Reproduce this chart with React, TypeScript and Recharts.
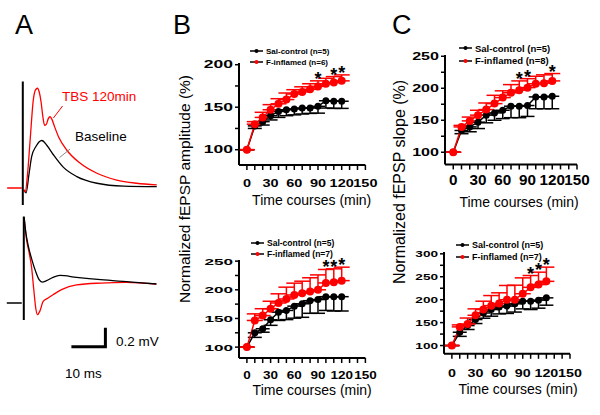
import React from 'react';
import {
  ComposedChart,
  LineChart,
  Line,
  XAxis,
  YAxis,
  ErrorBar,
  Scatter,
  Legend,
  ReferenceLine,
} from 'recharts';

const FONT = '"Liberation Sans", Arial, sans-serif';
const RED = '#ff0000';

// ---------- Panel A: example fEPSP traces (t in ms, v in mV) ----------
const topPreStim = [{ t: -4.6, v: 0 }, { t: -0.3, v: 0 }];
const topStim = [{ t: 0, v: 1.12 }, { t: 0, v: -0.18 }];
const topBaselineTrace = [
  { t: 0.3, v: -0.02 }, { t: 0.97, v: -0.05 }, { t: 1.8, v: 0.14 }, { t: 2.6, v: 0.33 },
  { t: 3.9, v: 0.44 }, { t: 5.6, v: 0.5 }, { t: 7.05, v: 0.45 }, { t: 9.0, v: 0.35 },
  { t: 11.9, v: 0.22 }, { t: 15.9, v: 0.12 }, { t: 21.8, v: 0.05 }, { t: 29.6, v: 0.02 },
  { t: 39.4, v: 0.015 },
];
const topTbsTrace = [
  { t: 0.3, v: -0.02 }, { t: 0.76, v: -0.04 }, { t: 1.4, v: 0.15 }, { t: 2.15, v: 0.5 },
  { t: 3.1, v: 0.93 }, { t: 3.7, v: 1.03 }, { t: 4.3, v: 1.05 }, { t: 4.9, v: 1.0 },
  { t: 5.4, v: 0.9 }, { t: 5.9, v: 0.75 }, { t: 6.4, v: 0.66 }, { t: 6.9, v: 0.67 },
  { t: 7.5, v: 0.73 }, { t: 8.0, v: 0.75 }, { t: 8.6, v: 0.72 }, { t: 9.3, v: 0.65 },
  { t: 10.5, v: 0.54 }, { t: 12.9, v: 0.4 }, { t: 16.9, v: 0.26 }, { t: 21.8, v: 0.155 },
  { t: 27.6, v: 0.084 }, { t: 33.5, v: 0.05 }, { t: 39.4, v: 0.032 },
];
const tbsPointer = [{ x: 9.0, y: 0.737 }, { x: 11.7, y: 0.863 }];
const baselinePointer = [{ x: 10.8, y: 0.32 }, { x: 13.9, y: 0.41 }];

const bottomPreStim = [{ t: -5, v: 0 }, { t: -0.6, v: 0 }];
const bottomStim = [{ t: 0, v: 0.91 }, { t: 0, v: -0.18 }];
const bottomBaselineTrace = [
  { t: 0.1, v: 0.9 }, { t: 0.6, v: 0.74 }, { t: 1.26, v: 0.61 }, { t: 2.26, v: 0.47 },
  { t: 3.5, v: 0.33 }, { t: 4.5, v: 0.245 }, { t: 5.4, v: 0.22 }, { t: 6.7, v: 0.235 },
  { t: 8.6, v: 0.27 }, { t: 10.6, v: 0.29 }, { t: 15.5, v: 0.27 }, { t: 22.6, v: 0.245 },
  { t: 30.2, v: 0.224 }, { t: 39, v: 0.2 },
];
const bottomTbsTrace = [
  { t: 0.1, v: 0.9 }, { t: 0.8, v: 0.67 }, { t: 1.56, v: 0.53 }, { t: 2.26, v: 0.385 },
  { t: 2.94, v: 0.14 }, { t: 3.5, v: -0.05 }, { t: 4.0, v: -0.123 }, { t: 4.7, v: -0.088 },
  { t: 5.7, v: 0.017 }, { t: 7.15, v: 0.053 }, { t: 8.6, v: 0.087 }, { t: 11.1, v: 0.14 },
  { t: 15.5, v: 0.19 }, { t: 22.6, v: 0.21 }, { t: 30.2, v: 0.217 }, { t: 39, v: 0.2 },
];
// 10 ms x 0.2 mV scale bar
const scaleBar = [{ t: 14, v: -0.46 }, { t: 24, v: -0.46 }, { t: 24, v: -0.26 }];

// ---------- Panels B / C: time courses ----------
const times = [0, 10, 20, 30, 40, 50, 60, 70, 80, 90, 100, 110, 120];
const xTicks = [0, 10, 20, 30, 40, 50, 60, 70, 80, 90, 100, 110, 120, 130, 140, 150];

// B top: fEPSP amplitude
const ampTopSal = [100, 128, 133, 140, 145, 147, 148, 149, 149, 151, 157.6, 157, 157];
const ampTopSalSem = [0, 3, 4, 5, 7, 7, 7, 7, 6.3, 8, 8.6, 8.4, 8.4];
const ampTopInf = [100, 130, 138, 147, 154, 159, 165.5, 168, 171, 174.5, 177.6, 179, 181];
const ampTopInfSem = [0, 3, 6, 6, 6, 7.7, 5.1, 6, 6.6, 6.5, 6.4, 7, 7];
const ampTopStars = [90, 110, 120];

// B bottom: fEPSP amplitude
const ampBotSal = [100, 125, 132, 147.7, 161, 164, 171.5, 175.6, 181, 183, 188, 188, 188];
const ampBotSalSem = [0, 8, 6, 9.7, 14.5, 16, 21, 23.6, 22, 24, 24, 25, 25];
const ampBotInf = [100, 146.5, 155, 167, 177, 184, 191, 194, 197, 200, 212, 213, 216];
const ampBotInfSem = [0, 11.5, 12, 13, 16, 20.6, 20.6, 21, 24, 26, 23.5, 23.6, 23.5];
const ampBotStars = [100, 110, 120];

// C top: fEPSP slope
const slopeTopSal = [100, 134, 139.6, 147, 158, 161.5, 165.6, 172, 172, 173, 186.5, 186.5, 187.5];
const slopeTopSalSem = [0, 5, 7.6, 10, 12, 11.5, 13, 18, 18, 17, 18.5, 18.5, 19.5];
const slopeTopInf = [100, 139.6, 149, 158, 166.7, 176, 185.4, 193, 197, 201, 207, 208, 211.5];
const slopeTopInfSem = [0, 2.4, 6, 7.6, 10.3, 13, 10.6, 12.7, 14.5, 14, 11.75, 13, 11.5];
const slopeTopStars = [80, 90, 120];

// C bottom: fEPSP slope
const slopeBotSal = [100, 129, 143.6, 156.7, 171, 178.5, 184, 186, 191, 196.7, 196.7, 199, 204];
const slopeBotSalSem = [0, 9, 8.6, 8.7, 11.4, 14.5, 15, 16, 18, 16.7, 18.2, 17.5, 16];
const slopeBotInf = [100, 140.7, 147, 166, 178.5, 187, 191.6, 200, 200, 213, 227, 233, 240];
const slopeBotInfSem = [0, 4.3, 13, 14, 18.2, 22, 23.4, 31, 31.6, 34.6, 25.7, 27, 31];
const slopeBotStars = [100, 110, 120];

const Y_W = 45;
const R_M = 14;
const T_M = 12;
const X_H = 50;

type TickStyle = { fs: number; sx: number };

interface PanelProps {
  plotLeft: number;
  plotTop: number;
  plotW: number;
  plotH: number;
  yDomain: [number, number];
  yTicks: number[];
  sal: number[];
  salSem: number[];
  inf: number[];
  infSem: number[];
  stars: number[];
  infN: number;
  xTick: TickStyle;
  yTick: TickStyle;
  xLabelGap: number;
  titleGap: number;
  titleDx: number;
  legendX: number;
  legendY: number;
  legendDy: number;
  legendFs: number;
}

function Star(props: any) {
  const { cx, cy } = props;
  return (
    <text x={cx} y={cy + 4} textAnchor="middle" fontFamily={FONT} fontWeight="bold" fontSize={18} fill="#000">
      *
    </text>
  );
}

function LegendIcon({ color }: { color: string }) {
  return (
    <svg width={15} height={8} style={{ marginRight: 1, flex: 'none' }}>
      <line x1={0} y1={4} x2={13} y2={4} stroke="#000" strokeWidth={1.5} />
      <circle cx={6.5} cy={4} r={2} fill={color} />
    </svg>
  );
}

function TimePanel(p: PanelProps) {
  const rows = times.map((t, i) => ({
    t,
    sal: p.sal[i],
    salErr: [p.salSem[i], 0],
    inf: p.inf[i],
    infErr: [0, p.infSem[i]],
  }));
  const starRows = p.stars.map((t) => {
    const i = times.indexOf(t);
    return { t, top: p.inf[i] + p.infSem[i] };
  });
  const chartLeft = p.plotLeft - Y_W;
  const chartTop = p.plotTop - T_M;
  const width = Y_W + p.plotW + R_M;
  const height = T_M + p.plotH + X_H;

  const xTickRender = (props: any) => {
    const { x, y, payload } = props;
    if (payload.value % 30 !== 0) return <g />;
    return (
      <text
        transform={`translate(${x},${y - 5 + p.xLabelGap + 0.36 * p.xTick.fs}) scale(${p.xTick.sx},1)`}
        textAnchor="middle"
        fontFamily={FONT}
        fontWeight="bold"
        fontSize={p.xTick.fs}
        fill="#000"
      >
        {payload.value}
      </text>
    );
  };
  const yTickRender = (props: any) => {
    const { x, y, payload } = props;
    if (payload.value % 50 !== 0) return <g />;
    return (
      <text
        transform={`translate(${x},${y + 0.36 * p.yTick.fs}) scale(${p.yTick.sx},1)`}
        textAnchor="end"
        fontFamily={FONT}
        fontWeight="bold"
        fontSize={p.yTick.fs}
        fill="#000"
      >
        {payload.value}
      </text>
    );
  };

  const legendRows: [string, string][] = [
    ['#000', 'Sal-control (n=5)'],
    [RED, `F-inflamed (n=${p.infN})`],
  ];

  return (
    <div style={{ position: 'absolute', left: chartLeft, top: chartTop }}>
      <ComposedChart width={width} height={height} data={rows} margin={{ top: T_M, right: R_M, bottom: 0, left: 0 }}>
        <XAxis
          dataKey="t"
          type="number"
          domain={[-10, 150]}
          ticks={xTicks}
          interval={0}
          height={X_H}
          axisLine={{ stroke: '#000', strokeWidth: 2 }}
          tickLine={{ stroke: '#000', strokeWidth: 1.5 }}
          tickSize={5}
          tickMargin={0}
          tick={xTickRender}
          label={{
            value: 'Time courses (min)',
            position: 'insideTop',
            offset: p.titleGap - 5,
            dx: p.titleDx,
            style: { fontFamily: FONT, fontSize: 14, fill: '#000' },
          }}
        />
        <YAxis
          type="number"
          domain={p.yDomain}
          ticks={p.yTicks}
          interval={0}
          width={Y_W}
          axisLine={{ stroke: '#000', strokeWidth: 2 }}
          tickLine={{ stroke: '#000', strokeWidth: 1.5 }}
          tickSize={4}
          tickMargin={2}
          tick={yTickRender}
        />
        <Legend
          layout="vertical"
          align="center"
          verticalAlign="middle"
          wrapperStyle={{ left: p.legendX - chartLeft, top: p.legendY - p.legendDy / 2 - chartTop, width: 'auto' }}
          content={() => (
            <div style={{ fontFamily: FONT, fontWeight: 'bold', fontSize: p.legendFs, color: '#000' }}>
              {legendRows.map(([c, label]) => (
                <div key={label} style={{ display: 'flex', alignItems: 'center', height: p.legendDy, whiteSpace: 'nowrap' }}>
                  <LegendIcon color={c} />
                  <span>{label}</span>
                </div>
              ))}
            </div>
          )}
        />
        <Line
          dataKey="sal"
          type="linear"
          stroke="#000"
          strokeWidth={1.5}
          dot={{ r: 3.5, fill: '#000', stroke: '#000', strokeWidth: 0 }}
          isAnimationActive={false}
        >
          <ErrorBar dataKey="salErr" direction="y" width={7} stroke="#000" strokeWidth={1.5} isAnimationActive={false} />
        </Line>
        <Line
          dataKey="inf"
          type="linear"
          stroke={RED}
          strokeWidth={1.5}
          dot={{ r: 4, fill: RED, stroke: RED, strokeWidth: 0 }}
          isAnimationActive={false}
        >
          <ErrorBar dataKey="infErr" direction="y" width={8} stroke={RED} strokeWidth={1.5} isAnimationActive={false} />
        </Line>
        <Scatter data={starRows} dataKey="top" shape={Star} isAnimationActive={false} />
      </ComposedChart>
    </div>
  );
}

const TRACE_X: [number, number] = [-7, 43];

function TraceTop() {
  return (
    <div style={{ position: 'absolute', left: -1, top: 74 }}>
      <LineChart width={170} height={142.5} margin={{ top: 0, right: 0, bottom: 0, left: 0 }}>
        <XAxis type="number" dataKey="t" domain={TRACE_X} hide allowDataOverflow />
        <YAxis type="number" domain={[-0.3, 1.2]} hide allowDataOverflow />
        <Line data={topPreStim} dataKey="v" stroke={RED} strokeWidth={1.3} dot={false} type="linear" isAnimationActive={false} />
        <Line data={topBaselineTrace} dataKey="v" stroke="#000" strokeWidth={1.3} dot={false} type="monotone" isAnimationActive={false} />
        <Line data={topTbsTrace} dataKey="v" stroke={RED} strokeWidth={1.3} dot={false} type="monotone" isAnimationActive={false} />
        <Line data={topStim} dataKey="v" stroke="#000" strokeWidth={2} dot={false} type="linear" isAnimationActive={false} />
        <ReferenceLine segment={tbsPointer} stroke={RED} strokeWidth={1} ifOverflow="visible" />
        <ReferenceLine segment={baselinePointer} stroke="#888" strokeWidth={1} ifOverflow="visible" />
      </LineChart>
    </div>
  );
}

function TraceBottom() {
  return (
    <div style={{ position: 'absolute', left: 0, top: 208.3 }}>
      <LineChart width={170} height={147.25} margin={{ top: 0, right: 0, bottom: 0, left: 0 }}>
        <XAxis type="number" dataKey="t" domain={TRACE_X} hide allowDataOverflow />
        <YAxis type="number" domain={[-0.55, 1.0]} hide allowDataOverflow />
        <Line data={bottomPreStim} dataKey="v" stroke="#000" strokeWidth={1.3} dot={false} type="linear" isAnimationActive={false} />
        <Line data={bottomTbsTrace} dataKey="v" stroke={RED} strokeWidth={1.3} dot={false} type="monotone" isAnimationActive={false} />
        <Line data={bottomBaselineTrace} dataKey="v" stroke="#000" strokeWidth={1.3} dot={false} type="monotone" isAnimationActive={false} />
        <Line data={bottomStim} dataKey="v" stroke="#000" strokeWidth={2} dot={false} type="linear" isAnimationActive={false} />
        <Line data={scaleBar} dataKey="v" stroke="#000" strokeWidth={3} dot={false} type="linear" isAnimationActive={false} />
      </LineChart>
    </div>
  );
}

function Txt({ x, y, size, children, color = '#000' }: { x: number; y: number; size: number; children: React.ReactNode; color?: string }) {
  // y is the vertical centre of the capitals
  const top = y + 0.36 * size - 0.8465 * size;
  return (
    <div style={{ position: 'absolute', left: x, top, fontSize: size, lineHeight: 1, color, whiteSpace: 'nowrap', fontFamily: FONT }}>
      {children}
    </div>
  );
}

function VTxt({ x, y, size, children }: { x: number; y: number; size: number; children: React.ReactNode }) {
  return (
    <div
      style={{
        position: 'absolute',
        left: x,
        top: y,
        fontSize: size,
        lineHeight: 1,
        whiteSpace: 'nowrap',
        fontFamily: FONT,
        transform: 'translate(-50%, -50%) rotate(-90deg)',
      }}
    >
      {children}
    </div>
  );
}

export default function App() {
  return (
    <div style={{ position: 'absolute', left: 0, top: 0, width: 600, height: 415, background: '#fff', overflow: 'hidden', fontFamily: FONT }}>
      <Txt x={15} y={25} size={27}>A</Txt>
      <Txt x={173} y={25} size={27}>B</Txt>
      <Txt x={392} y={25} size={27}>C</Txt>

      <TraceTop />
      <TraceBottom />
      <Txt x={62} y={97} size={13.5} color={RED}>TBS 120min</Txt>
      <Txt x={75} y={137} size={13.5}>Baseline</Txt>
      <Txt x={116} y={341.7} size={13.5}>0.2 mV</Txt>
      <Txt x={65} y={373.3} size={13.5}>10 ms</Txt>

      <VTxt x={185} y={189} size={15.5}>Normalized fEPSP amplitude (%)</VTxt>
      <VTxt x={400} y={182} size={16}>Normalized fEPSP slope (%)</VTxt>

      <TimePanel
        plotLeft={239} plotTop={63} plotW={126.4} plotH={102} yDomain={[82, 202]} yTicks={[100, 125, 150, 175, 200]}
        sal={ampTopSal} salSem={ampTopSalSem} inf={ampTopInf} infSem={ampTopInfSem} stars={ampTopStars} infN={6}
        xTick={{ fs: 10, sx: 1.45 }} yTick={{ fs: 10, sx: 1.75 }} xLabelGap={18.3} titleGap={35} titleDx={9.5}
        legendX={250} legendY={51} legendDy={11} legendFs={8}
      />
      <TimePanel
        plotLeft={239} plotTop={259.7} plotW={126.4} plotH={98} yDomain={[81, 252]} yTicks={[100, 125, 150, 175, 200, 225, 250]}
        sal={ampBotSal} salSem={ampBotSalSem} inf={ampBotInf} infSem={ampBotInfSem} stars={ampBotStars} infN={7}
        xTick={{ fs: 10, sx: 1.35 }} yTick={{ fs: 9.5, sx: 1.8 }} xLabelGap={17.3} titleGap={32.3} titleDx={10}
        legendX={251} legendY={243} legendDy={10.5} legendFs={8.5}
      />
      <TimePanel
        plotLeft={445} plotTop={54.7} plotW={132} plotH={109.4} yDomain={[81, 252]} yTicks={[100, 125, 150, 175, 200, 225, 250]}
        sal={slopeTopSal} salSem={slopeTopSalSem} inf={slopeTopInf} infSem={slopeTopInfSem} stars={slopeTopStars} infN={8}
        xTick={{ fs: 14.5, sx: 1.05 }} yTick={{ fs: 11.5, sx: 1.4 }} xLabelGap={15.2} titleGap={37.7} titleDx={8}
        legendX={459} legendY={48.3} legendDy={12.4} legendFs={9.5}
      />
      <TimePanel
        plotLeft={444} plotTop={252.2} plotW={126} plotH={101.8} yDomain={[82, 304]} yTicks={[100, 125, 150, 175, 200, 225, 250, 275, 300]}
        sal={slopeBotSal} salSem={slopeBotSalSem} inf={slopeBotInf} infSem={slopeBotInfSem} stars={slopeBotStars} infN={7}
        xTick={{ fs: 11, sx: 1.3 }} yTick={{ fs: 8.5, sx: 1.6 }} xLabelGap={19.3} titleGap={35.3} titleDx={11}
        legendX={456} legendY={245} legendDy={11.7} legendFs={9}
      />
    </div>
  );
}
